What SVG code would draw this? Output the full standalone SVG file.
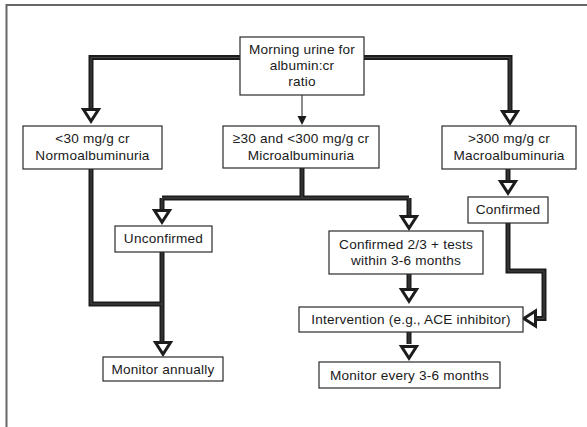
<svg xmlns="http://www.w3.org/2000/svg" xmlns:xlink="http://www.w3.org/1999/xlink" width="587" height="427" viewBox="0 0 587 427">
<style>
.bx{fill:#fff;stroke:#2a2a2a;stroke-width:1.2}
.t{font-family:"Liberation Sans",Arial,sans-serif;font-size:13.6px;letter-spacing:0.2px;fill:#1a1a1a;text-anchor:middle}
.wo{fill:none;stroke:#1c1c1c;stroke-width:5;stroke-linejoin:miter}
.wi{fill:none;stroke:#484848;stroke-width:1;stroke-linejoin:miter}
.ah{fill:#fff;stroke:#1c1c1c;stroke-width:3;stroke-linejoin:miter}
.frame{fill:none;stroke:#666;stroke-width:2}
</style>
<defs>
<path id="ah" d="M-7.5,-13.5 L7.5,-13.5 L0,-1.8 Z"/>
</defs>
<path class="frame" d="M6.5,427 L6.5,5 L587,5"/>
<g id="connectors">
<g id="wide">
<path class="wo" d="M240,57.5 L91,57.5 L91,108"/>
<path class="wi" d="M240,57.5 L91,57.5 L91,108"/>
<path class="wo" d="M364,57.5 L510,57.5 L510,110"/>
<path class="wi" d="M364,57.5 L510,57.5 L510,110"/>
<path class="wo" d="M302,168 L302,198 M162,198 L409,198 M162,198 L162,209 M409,198 L409,215"/>
<path class="wi" d="M302,168 L302,198 M162,198 L409,198 M162,198 L162,209 M409,198 L409,215"/>
<path class="wo" d="M91,169 L91,304 L162,304 M162,252 L162,341"/>
<path class="wi" d="M91,169 L91,304 L162,304 M162,252 L162,341"/>
<path class="wo" d="M508,169 L508,180"/>
<path class="wi" d="M508,169 L508,180"/>
<path class="wo" d="M508,223 L508,271 L544,271 L544,318.5 L537,318.5"/>
<path class="wi" d="M508,223 L508,271 L544,271 L544,318.5 L537,318.5"/>
<path class="wo" d="M409,274 L409,288 M409,332 L409,344"/>
<path class="wi" d="M409,274 L409,288 M409,332 L409,344"/>
</g>
<g id="heads">
<use xlink:href="#ah" class="ah" transform="translate(91,123)"/>
<use xlink:href="#ah" class="ah" transform="translate(510,125)"/>
<use xlink:href="#ah" class="ah" transform="translate(162,224)"/>
<use xlink:href="#ah" class="ah" transform="translate(409,230)"/>
<use xlink:href="#ah" class="ah" transform="translate(508,195)"/>
<use xlink:href="#ah" class="ah" transform="translate(163,356)"/>
<use xlink:href="#ah" class="ah" transform="translate(409,303)"/>
<use xlink:href="#ah" class="ah" transform="translate(409,360)"/>
<use xlink:href="#ah" class="ah" transform="translate(522,318.5) rotate(90)"/>
</g>
<g id="thin">
<line x1="302" y1="95" x2="302" y2="117" stroke="#1a1a1a" stroke-width="1"/>
<path d="M297.5,116 L306.5,116 L302,125 Z" fill="#1a1a1a"/>
</g>
</g>
<g id="n-start">
<rect class="bx" x="240" y="37" width="124" height="58"/>
<text class="t" x="302" y="54">Morning urine for</text>
<text class="t" x="302" y="70">albumin:cr</text>
<text class="t" x="302" y="86">ratio</text>
</g>
<g id="n-normo">
<rect class="bx" x="23" y="126" width="139" height="43"/>
<text class="t" x="92.5" y="143">&lt;30 mg/g cr</text>
<text class="t" x="92.5" y="160">Normoalbuminuria</text>
</g>
<g id="n-micro">
<rect class="bx" x="223" y="126" width="156" height="42"/>
<text class="t" x="301" y="143">≥30 and &lt;300 mg/g cr</text>
<text class="t" x="301" y="160">Microalbuminuria</text>
</g>
<g id="n-macro">
<rect class="bx" x="442" y="126" width="134" height="43"/>
<text class="t" x="509" y="143">&gt;300 mg/g cr</text>
<text class="t" x="509" y="160">Macroalbuminuria</text>
</g>
<g id="n-unconfirmed">
<rect class="bx" x="115" y="226" width="97" height="26"/>
<text class="t" x="163.5" y="243">Unconfirmed</text>
</g>
<g id="n-confirmed">
<rect class="bx" x="468" y="197" width="80" height="26"/>
<text class="t" x="508" y="214">Confirmed</text>
</g>
<g id="n-confirmed23">
<rect class="bx" x="329" y="231" width="154" height="43"/>
<text class="t" x="406" y="249">Confirmed 2/3 + tests</text>
<text class="t" x="406" y="265">within 3-6 months</text>
</g>
<g id="n-intervention">
<rect class="bx" x="299" y="307" width="224" height="25"/>
<text class="t" x="411" y="324">Intervention (e.g., ACE inhibitor)</text>
</g>
<g id="n-annual">
<rect class="bx" x="103" y="357" width="120" height="24"/>
<text class="t" x="163" y="374">Monitor annually</text>
</g>
<g id="n-every">
<rect class="bx" x="319" y="362" width="181" height="26"/>
<text class="t" x="409.5" y="380">Monitor every 3-6 months</text>
</g>
</svg>
